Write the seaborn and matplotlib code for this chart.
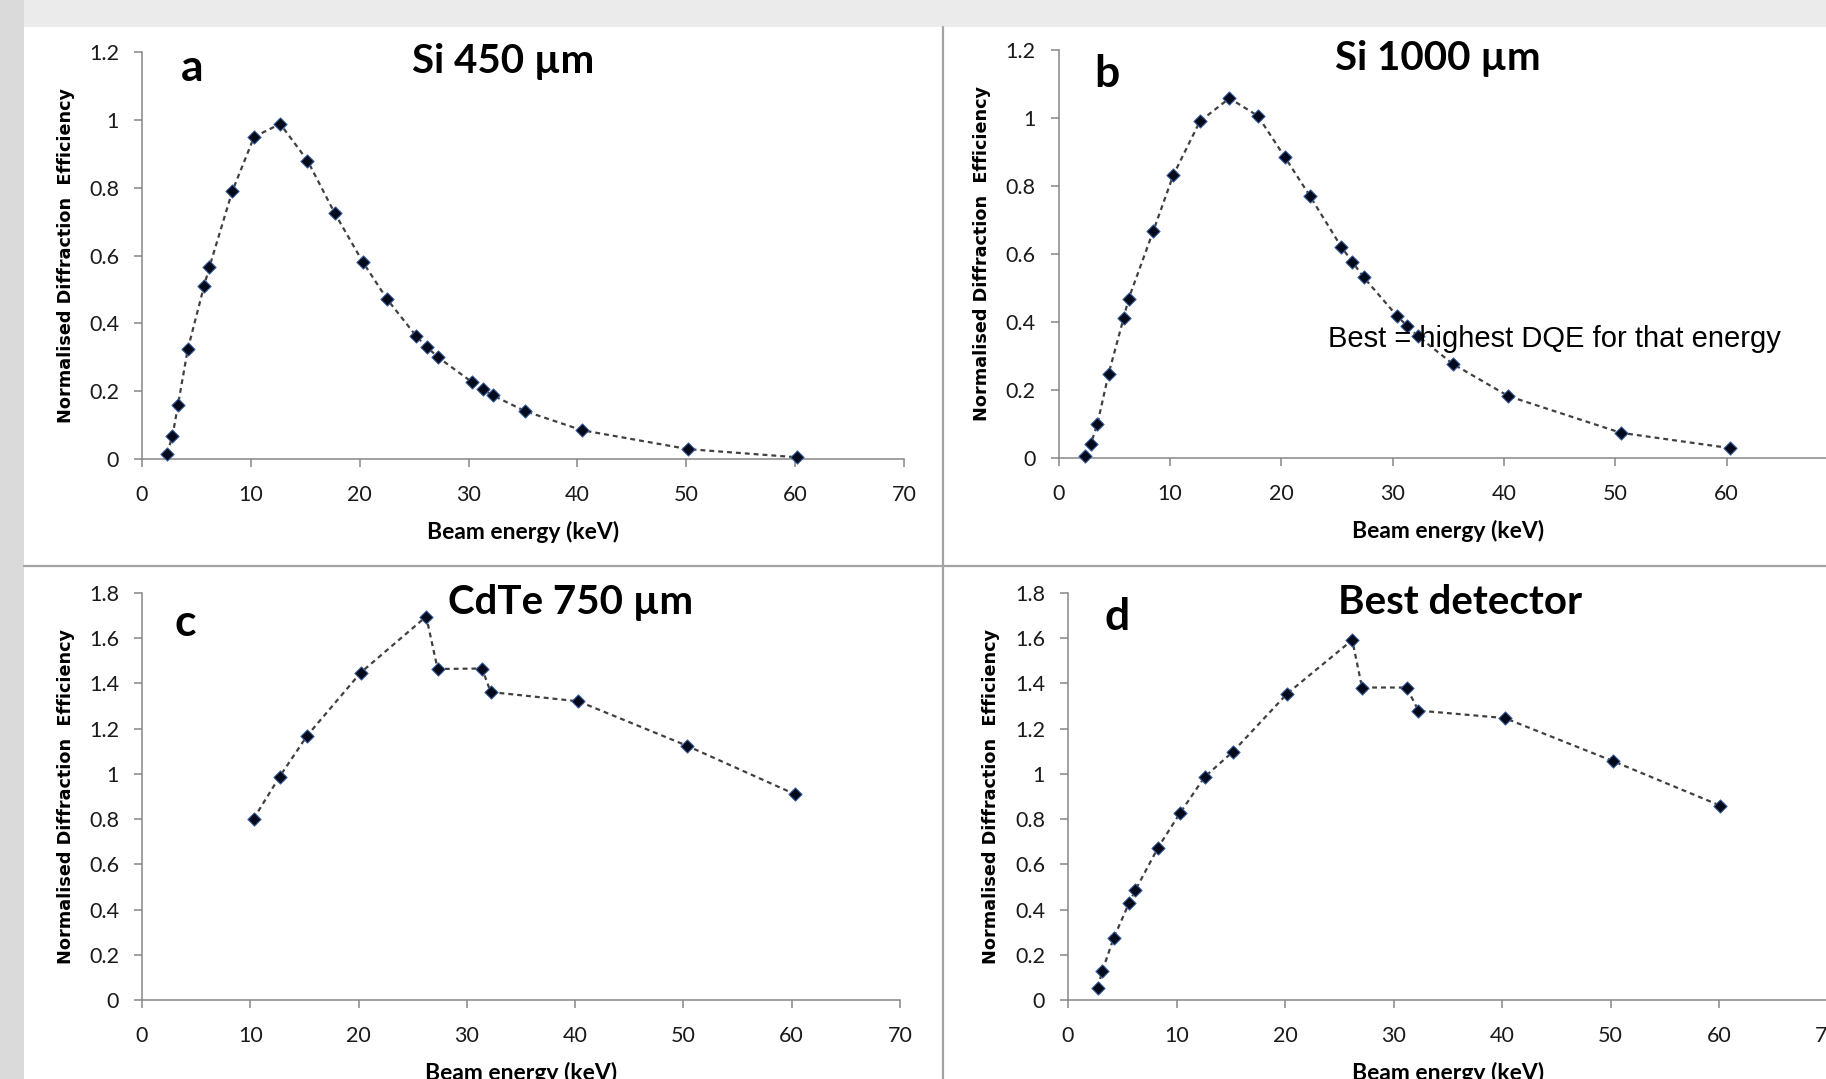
import pandas as pd
import matplotlib
matplotlib.use('Agg')
import matplotlib.pyplot as plt
from matplotlib.lines import Line2D
from matplotlib.patches import Rectangle
from matplotlib.ticker import FuncFormatter
import seaborn as sns

# values: beam energy (keV) and normalised efficiency
si450_energy = [2.3, 2.8, 3.3, 4.2, 5.7, 6.2, 8.3, 10.3, 12.7, 15.2, 17.7, 20.3,
                22.5, 25.2, 26.2, 27.2, 30.3, 31.3, 32.2, 35.2, 40.4, 50.2, 60.2]
si450_eff = [0.016, 0.068, 0.158, 0.323, 0.510, 0.567, 0.790, 0.950, 0.988, 0.880, 0.725, 0.580,
             0.472, 0.362, 0.329, 0.300, 0.227, 0.205, 0.188, 0.141, 0.085, 0.029, 0.005]

si1000_energy = [2.4, 2.9, 3.5, 4.5, 5.85, 6.3, 8.5, 10.3, 12.7, 15.35, 17.9, 20.3,
                 22.6, 25.4, 26.4, 27.4, 30.4, 31.3, 32.3, 35.4, 40.4, 50.5, 60.3]
si1000_eff = [0.005, 0.040, 0.100, 0.247, 0.411, 0.468, 0.666, 0.831, 0.990, 1.058, 1.006, 0.886,
              0.769, 0.620, 0.576, 0.531, 0.417, 0.388, 0.357, 0.276, 0.181, 0.073, 0.028]

cdte_energy = [10.3, 12.7, 15.25, 20.2, 26.25, 27.3, 31.4, 32.2, 40.3, 50.3, 60.3]
cdte_eff = [0.801, 0.987, 1.169, 1.448, 1.696, 1.464, 1.466, 1.362, 1.321, 1.125, 0.910]

best_energy = [2.75, 3.15, 4.2, 5.65, 6.2, 8.3, 10.3, 12.6, 15.2, 20.2, 26.2, 27.1,
               31.2, 32.3, 40.25, 50.2, 60.1]
best_eff = [0.055, 0.127, 0.273, 0.431, 0.485, 0.674, 0.825, 0.987, 1.098, 1.355, 1.592, 1.382,
            1.382, 1.280, 1.247, 1.057, 0.860]

titles = ['Si 450 µm', 'Si 1000 µm', 'CdTe 750 µm', 'Best detector']
letters = ['a', 'b', 'c', 'd']
x_ticks = [0, 10, 20, 30, 40, 50, 60, 70]
y_ticks_top = [0, 0.2, 0.4, 0.6, 0.8, 1.0, 1.2]
y_ticks_bottom = [0, 0.2, 0.4, 0.6, 0.8, 1.0, 1.2, 1.4, 1.6, 1.8]
note = 'Best = highest DQE for that energy'

sns.set_theme(style='ticks')
plt.rcParams['font.family'] = ['Lato', 'DejaVu Sans']

W, H = 1826, 1079
fig = plt.figure(figsize=(W / 100, H / 100), dpi=100, facecolor='white')

# slide background: grey band on top and grey strip on the left, panel separators
fig.add_artist(Rectangle((0, 1 - 27 / H), 1, 27 / H, transform=fig.transFigure,
                         facecolor='#ebebeb', edgecolor='none', zorder=0))
fig.add_artist(Rectangle((0, 0), 24 / W, 1, transform=fig.transFigure,
                         facecolor='#dadada', edgecolor='none', zorder=0))
fig.add_artist(Line2D([24 / W, 1], [1 - 566 / H, 1 - 566 / H], transform=fig.transFigure,
                      color='#a3a3a3', lw=1.6))
fig.add_artist(Line2D([943 / W, 943 / W], [0, 1 - 27 / H], transform=fig.transFigure,
                      color='#a3a3a3', lw=1.6))


def px_rect(left, right, top, bottom):
    return [left / W, 1 - bottom / H, (right - left) / W, (bottom - top) / H]


panels = [
    dict(rect=px_rect(142, 904, 52, 459), x=si450_energy, y=si450_eff, ymax=1.2, yt=y_ticks_top,
         ylab_px=66, title_xy=(0.474, 0.948), letter_xy=(0.066, 0.929)),
    dict(rect=px_rect(1058.5, 1838, 50, 457.6), x=si1000_energy, y=si1000_eff, ymax=1.2, yt=y_ticks_top,
         ylab_px=982, title_xy=(0.487, 0.951), letter_xy=(0.062, 0.909)),
    dict(rect=px_rect(142, 900, 593, 1000), x=cdte_energy, y=cdte_eff, ymax=1.8, yt=y_ticks_bottom,
         ylab_px=66, title_xy=(0.566, 0.948), letter_xy=(0.057, 0.894)),
    dict(rect=px_rect(1068, 1827.5, 593, 1000), x=best_energy, y=best_eff, ymax=1.8, yt=y_ticks_bottom,
         ylab_px=991, title_xy=(0.516, 0.948), letter_xy=(0.0645, 0.909)),
]

axis_col = '#868686'
text_col = '#1a1a1a'

for i, p in enumerate(panels):
    ax = fig.add_axes(p['rect'])
    ax.set_facecolor('none')
    df = pd.DataFrame({'energy': p['x'], 'eff': p['y']})

    sns.lineplot(data=df, x='energy', y='eff', ax=ax, color='#404040', lw=1.6,
                 sort=False, estimator=None)
    for ln in ax.lines:
        ln.set_dashes([2.2, 1.8])
        ln.set_clip_on(False)
    sns.scatterplot(data=df, x='energy', y='eff', ax=ax, marker='D', s=46,
                    color='#020a1c', edgecolor='#3a64a8', linewidth=0.7, zorder=3, clip_on=False)

    ax.set_xlim(0, 70)
    ax.set_ylim(0, p['ymax'])
    ax.set_xticks(x_ticks)
    ax.set_yticks(p['yt'])
    ax.xaxis.set_major_formatter(FuncFormatter(lambda v, _: f'{v:g}'))
    ax.yaxis.set_major_formatter(FuncFormatter(lambda v, _: f'{v:g}'))
    sns.despine(ax=ax)
    for s in ['left', 'bottom']:
        ax.spines[s].set_color(axis_col)
        ax.spines[s].set_linewidth(1.1)
    ax.tick_params(axis='both', direction='out', length=6, width=1.1, color=axis_col,
                   labelcolor=text_col, labelsize=15.5)
    ax.tick_params(axis='x', pad=13)
    ax.tick_params(axis='y', pad=10.5)

    ax.set_xlabel('Beam energy (keV)', fontsize=16.5, fontweight='bold', color='black', va='top')
    ax.xaxis.set_label_coords(0.5, -0.153)
    ax.set_ylabel('Normalised Diffraction  Efficiency', fontsize=12.7, fontweight='bold',
                  family='DejaVu Sans', color='black', va='center')
    ax.yaxis.set_label_coords(-(p['rect'][0] * W - p['ylab_px']) / (p['rect'][2] * W), 0.5)

    ax.text(*p['title_xy'], titles[i], transform=ax.transAxes, ha='center', va='baseline',
            fontsize=29, fontweight='bold', color='black')
    ax.text(*p['letter_xy'], letters[i], transform=ax.transAxes, ha='center', va='baseline',
            fontsize=32, fontweight='bold', color='black')

    if i == 1:
        ax.text(0.3457, 0.2713, note, transform=ax.transAxes, ha='left', va='baseline',
                fontsize=21, family=['Liberation Sans', 'DejaVu Sans'], color='black', zorder=4)

fig.savefig('out.png', dpi=100, facecolor=fig.get_facecolor())
